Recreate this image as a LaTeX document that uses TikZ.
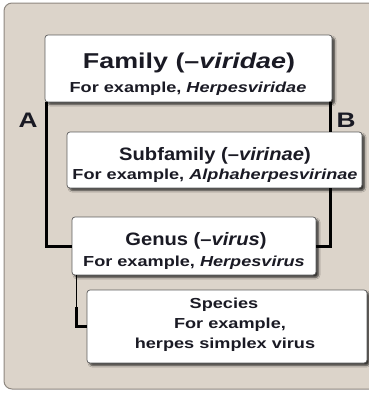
\documentclass[tikz,border=0pt]{standalone}
\usepackage{fontspec}
\newfontfamily\hv[FakeStretch=1.25,Ligatures=TeX]{Liberation Sans}
\newfontfamily\hvt[FakeStretch=1.12,Ligatures=TeX]{Liberation Sans}
\usetikzlibrary{shadows.blur}
\definecolor{bgbeige}{HTML}{DCD4CA}
\definecolor{bgedge}{HTML}{8E8780}
\definecolor{txt}{HTML}{1A1A24}
\definecolor{boxedge}{HTML}{5E5E5E}
\tikzset{
  taxbox/.style={draw=boxedge, line width=0.7pt, fill=white, rounded corners=3pt,
    blur shadow={shadow xshift=2.5pt, shadow yshift=-2.5pt, shadow blur steps=6, shadow opacity=75}},
  ttl/.style={anchor=base, text=txt, inner sep=0pt, font=\hv\bfseries},
  conn/.style={draw=black, line width=3pt},
  thinconn/.style={draw=black, line width=1.1pt},
  lbl/.style={anchor=base, text=txt, inner sep=0pt, font=\hv\bfseries\fontsize{21}{24}\selectfont}
}
\begin{document}
\begin{tikzpicture}[x=1pt,y=-1pt]
\useasboundingbox (0,0) rectangle (369,397);
\clip (0,0) rectangle (369,397);
\draw[fill=bgbeige, draw=bgedge, line width=1pt, rounded corners=8pt] (4,3) rectangle (390,389);

% boxes
\node[taxbox, minimum width=287pt, minimum height=67pt, inner sep=0pt] (fam) at (188.5,68.5) {};
\node[taxbox, minimum width=295pt, minimum height=56pt, inner sep=0pt] (sub) at (214.5,160) {};
\node[taxbox, minimum width=244pt, minimum height=58pt, inner sep=0pt] (gen) at (194,246) {};
\node[taxbox, minimum width=280pt, minimum height=73pt, inner sep=0pt] (spe) at (227,326.5) {};

% connectors
\draw[conn] ([xshift=1.5pt]fam.south west) |- (gen.west);
\draw[conn] ([xshift=-1.5pt]fam.south east) -- ([xshift=-1.5pt]fam.south east |- sub.north);
\draw[conn] ([xshift=-1.5pt]fam.south east |- sub.south) |- (gen.east);
\coordinate (gdrop) at ([xshift=5pt]gen.south west);
\coordinate (gknee) at ([yshift=-32pt]gdrop);
\draw[thinconn] (gdrop) -- (gknee);
\draw[conn, line width=3.4pt] (gknee) |- (spe.west);

% texts
\node[ttl, font=\hv\bfseries\fontsize{21.5}{24}\selectfont] (famT) at (189,68) {Family (--\textit{viridae})};
\node[ttl, font=\hv\bfseries\fontsize{14.5}{17}\selectfont] (famS) at (188,92) {For example, \textit{Herpesviridae}};

\node[ttl, font=\hvt\bfseries\fontsize{18}{20}\selectfont] (subT) at (215,160) {Subfamily (--\textit{virinae})};
\node[ttl, font=\hv\bfseries\fontsize{14.5}{17}\selectfont] (subS) at (215,179) {For example, \textit{Alphaherpesvirinae}};

\node[ttl, font=\hvt\bfseries\fontsize{18}{20}\selectfont] (genT) at (196,245) {Genus (--\textit{virus})};
\node[ttl, font=\hv\bfseries\fontsize{14.5}{17}\selectfont] (genS) at (194,266) {For example, \textit{Herpesvirus}};

\node[ttl, font=\hv\bfseries\fontsize{14.5}{17}\selectfont] (speA) at (224,308) {Species};
\node[ttl, font=\hv\bfseries\fontsize{14.5}{17}\selectfont] (speB) at (230,328) {For example,};
\node[ttl, font=\hv\bfseries\fontsize{14.5}{17}\selectfont] (speC) at (225,348) {herpes simplex virus};

\node[lbl] (labA) at (28,127.5) {A};
\node[lbl] (labB) at (346,127) {B};
\end{tikzpicture}
\end{document}
